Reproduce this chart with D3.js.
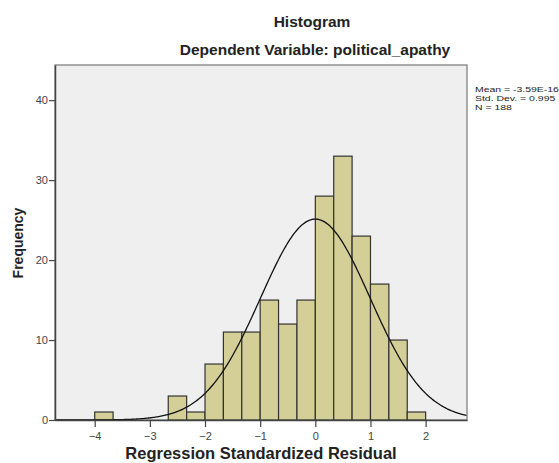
<!DOCTYPE html>
<html>
<head>
<meta charset="utf-8">
<script src="https://cdn.jsdelivr.net/npm/d3@7"></script>
<style>
  body { margin: 0; background: #fff; }
  text { font-family: Arial, "Liberation Sans", sans-serif; }
</style>
</head>
<body>
<div id="chart"></div>
<script>
const width = 559;
const height = 463;

// bins of width 1/3, starting at the lower edge
const binStarts = [-4, -11/3, -10/3, -3, -8/3, -7/3, -2, -5/3, -4/3, -1, -2/3, -1/3, 0, 1/3, 2/3, 1, 4/3, 5/3];
const binCounts = [1, 0, 0, 0, 3, 1, 7, 11, 11, 15, 12, 15, 28, 33, 23, 17, 10, 1];
const binWidth = 1 / 3;

const xTicks = [-4, -3, -2, -1, 0, 1, 2];
const yTicks = [0, 10, 20, 30, 40];

const stats = { mean: -3.59e-16, sd: 0.995, n: 188 };
const statLines = ["Mean = -3.59E-16", "Std. Dev. = 0.995", "N = 188"];

const plot = { left: 55, right: 467, top: 65, bottom: 420 };

const svg = d3.select("#chart")
  .append("svg")
  .attr("width", width)
  .attr("height", height);

const x = d3.scaleLinear()
  .domain([-4.72, 2.75])
  .range([plot.left, plot.right]);

const y = d3.scaleLinear()
  .domain([0, 44.4])
  .range([plot.bottom, plot.top]);

// plot background
svg.append("rect")
  .attr("x", plot.left)
  .attr("y", plot.top)
  .attr("width", plot.right - plot.left)
  .attr("height", plot.bottom - plot.top)
  .attr("fill", "#f0eff0")
  .attr("stroke", "#777")
  .attr("stroke-width", 1.2);

// bars
const bins = binStarts.map((s, i) => ({ x0: s, x1: s + binWidth, count: binCounts[i] }))
  .filter(d => d.count > 0);

svg.append("g")
  .selectAll("rect")
  .data(bins)
  .enter()
  .append("rect")
  .attr("x", d => x(d.x0))
  .attr("y", d => y(d.count))
  .attr("width", d => x(d.x1) - x(d.x0))
  .attr("height", d => y(0) - y(d.count))
  .attr("fill", "#d4cf97")
  .attr("stroke", "#333")
  .attr("stroke-width", 1.2);

// normal curve from the reported mean / sd / N
const pdf = v => Math.exp(-0.5 * ((v - stats.mean) / stats.sd) ** 2) / (stats.sd * Math.sqrt(2 * Math.PI));
const curvePts = d3.range(x.domain()[0], x.domain()[1] + 0.001, 0.02)
  .map(v => [v, stats.n * binWidth * pdf(v)]);

svg.append("path")
  .datum(curvePts)
  .attr("fill", "none")
  .attr("stroke", "#111")
  .attr("stroke-width", 1.3)
  .attr("d", d3.line().x(d => x(d[0])).y(d => y(d[1])));

// axes
const xAxis = svg.append("g")
  .attr("transform", `translate(0,${plot.bottom})`)
  .call(d3.axisBottom(x).tickValues(xTicks).tickSize(7).tickSizeOuter(0).tickFormat(d3.format("d")));
const yAxis = svg.append("g")
  .attr("transform", `translate(${plot.left},0)`)
  .call(d3.axisLeft(y).tickValues(yTicks).tickSize(6).tickSizeOuter(0));

[xAxis, yAxis].forEach(a => {
  a.select(".domain").attr("stroke", "#444").attr("stroke-width", 1.5);
  a.selectAll(".tick line").attr("stroke", "#444").attr("stroke-width", 1.2);
  a.selectAll(".tick text")
    .attr("fill", "#444")
    .style("font-size", "11px")
    .style("font-family", "Arial, 'Liberation Sans', sans-serif");
});
xAxis.selectAll(".tick text").attr("dy", "0.9em");
yAxis.selectAll(".tick text").attr("x", -7);

// titles
svg.append("text")
  .attr("x", 312)
  .attr("y", 27)
  .attr("text-anchor", "middle")
  .style("font-size", "15.5px")
  .style("font-weight", "bold")
  .attr("fill", "#222")
  .text("Histogram");

svg.append("text")
  .attr("x", 315)
  .attr("y", 55)
  .attr("text-anchor", "middle")
  .style("font-size", "15.5px")
  .style("font-weight", "bold")
  .attr("fill", "#222")
  .text("Dependent Variable: political_apathy");

svg.append("text")
  .attr("x", (plot.left + plot.right) / 2)
  .attr("y", 459)
  .attr("text-anchor", "middle")
  .style("font-size", "16.5px")
  .style("font-weight", "bold")
  .attr("fill", "#222")
  .text("Regression Standardized Residual");

svg.append("text")
  .attr("transform", `translate(23,243) rotate(-90)`)
  .attr("text-anchor", "middle")
  .style("font-size", "14px")
  .style("font-weight", "bold")
  .attr("fill", "#222")
  .text("Frequency");

// stats legend
svg.append("g")
  .attr("transform", "translate(475,0) scale(1.34,1)")
  .selectAll("text")
  .data(statLines)
  .enter()
  .append("text")
  .attr("x", 0)
  .attr("y", (d, i) => 92 + i * 8.8)
  .style("font-size", "7.8px")
  .attr("fill", "#222")
  .text(d => d);
</script>
</body>
</html>
